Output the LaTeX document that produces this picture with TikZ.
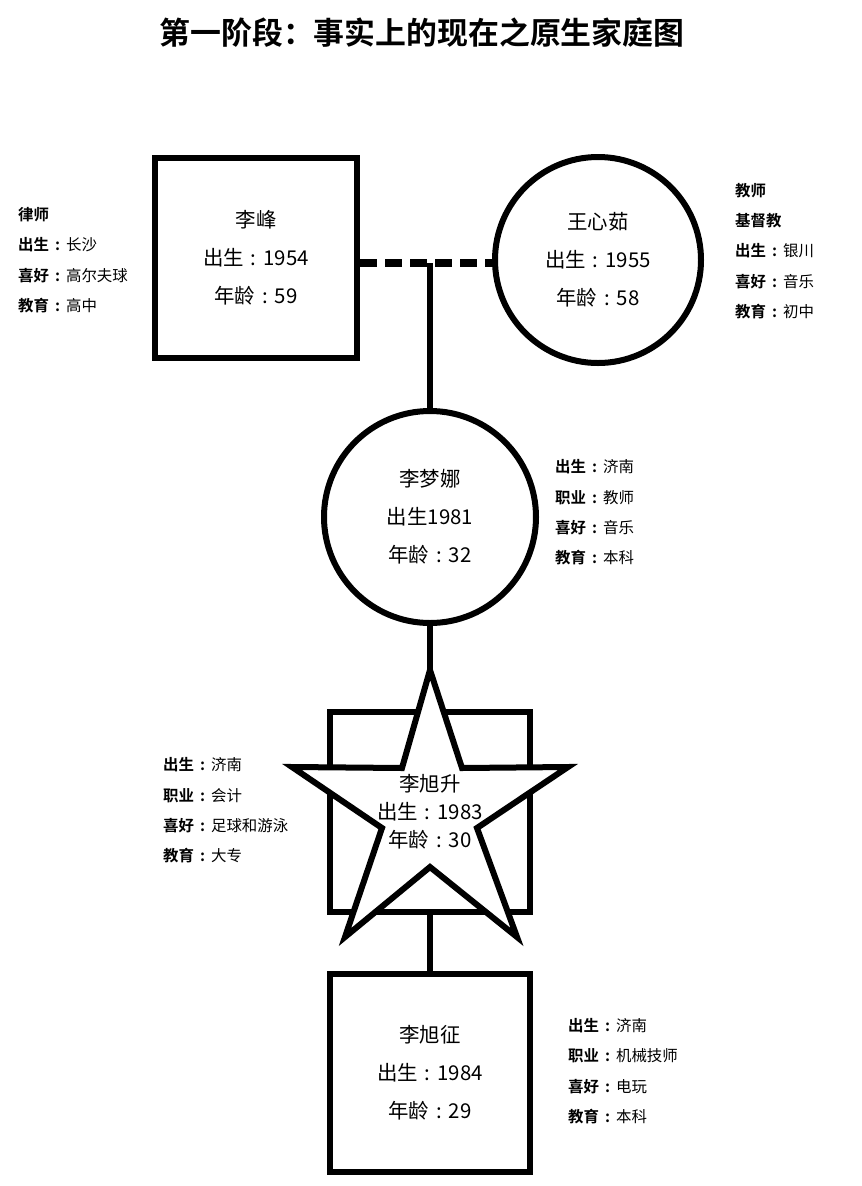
\documentclass[tikz,border=0pt]{standalone}
\usepackage{fontspec}
\setmainfont{Noto Sans CJK SC}[BoldFont={Noto Sans CJK SC Bold}]
\newfontfamily\titlefont{Noto Sans CJK SC Bold}
\usetikzlibrary{calc}
\newcommand{\cl}{\hspace{7bp}:\hspace{7bp}}
\newcommand{\lb}[1]{{\bfseries #1\hspace{6bp}:\hspace{6bp}}}
\tikzset{
  person/.style={draw=black, line width=6bp, fill=white, align=center, inner sep=0pt,
    font=\fontsize{20.5}{38}\selectfont},
  sqbox/.style={person, rectangle, minimum width=202bp, minimum height=200bp},
  circbox/.style={person, circle, minimum size=206bp},
  link/.style={line width=6bp},
  dashlink/.style={line width=8bp, dash pattern=on 17bp off 8bp},
  note/.style={anchor=west, align=left, inner sep=0pt, font=\fontsize{15.5}{30.5}\selectfont},
}
\begin{document}
\begin{tikzpicture}[x=1bp,y=-1bp]
\useasboundingbox (0,0) rectangle (862,1186);
% title
\node[font=\titlefont\fontsize{31}{34}\selectfont] (title) at (422,33) {第一阶段：事实上的现在之原生家庭图};

% generation 1
\node[sqbox] (lf) at (256,258) {李峰\\出生\cl1954\\年龄\cl59};
\node[circbox] (wxr) at (598,260) {王心茹\\出生\cl1955\\年龄\cl58};
\coordinate (m) at (430,263);
\draw[dashlink] (lf.east |- m) -- (wxr.west |- m);

% 李梦娜
\node[circbox, minimum size=212bp] (lmn) at (430,517) {李梦娜\\出生1981\\年龄\cl32};
\draw[link] (m) -- (lmn.north);

% 李旭升 (square + star)
\node[sqbox, minimum width=200bp, minimum height=200bp] (sr) at (430,812) {};
\coordinate (s1) at (430,670);
\coordinate (s2) at (462,768);
\coordinate (s3) at (568,767);
\coordinate (s4) at (477,828);
\coordinate (s5) at (517,937);
\coordinate (s6) at (430,867);
\coordinate (s7) at (345,937);
\coordinate (s8) at (382,828);
\coordinate (s9) at (292,767);
\coordinate (s10) at (402,768);
\draw[link, fill=white, line join=miter] (s1) -- (s2) -- (s3) -- (s4) -- (s5) -- (s6) -- (s7) -- (s8) -- (s9) -- (s10) -- cycle;
\node[align=center, inner sep=0pt, font=\fontsize{20.5}{28}\selectfont] (lxs) at (430,812) {李旭升\\出生\cl1983\\年龄\cl30};
\draw[link] (lmn.south) -- (s1);

% 李旭征
\node[sqbox, minimum width=200bp, minimum height=198bp] (lxz) at (430,1073) {李旭征\\出生\cl1984\\年龄\cl29};
\draw[link] (sr.south) -- (lxz.north);

% notes
\node[note] (n1) at (18,260) {{\bfseries 律师}\\\lb{出生}长沙\\\lb{喜好}高尔夫球\\\lb{教育}高中};
\node[note] (n2) at (735,251) {{\bfseries 教师}\\{\bfseries 基督教}\\\lb{出生}银川\\\lb{喜好}音乐\\\lb{教育}初中};
\node[note] (n3) at (555,512.5) {\lb{出生}济南\\\lb{职业}教师\\\lb{喜好}音乐\\\lb{教育}本科};
\node[note] (n4) at (163,810.5) {\lb{出生}济南\\\lb{职业}会计\\\lb{喜好}足球和游泳\\\lb{教育}大专};
\node[note] (n5) at (568,1071) {\lb{出生}济南\\\lb{职业}机械技师\\\lb{喜好}电玩\\\lb{教育}本科};
\end{tikzpicture}
\end{document}
